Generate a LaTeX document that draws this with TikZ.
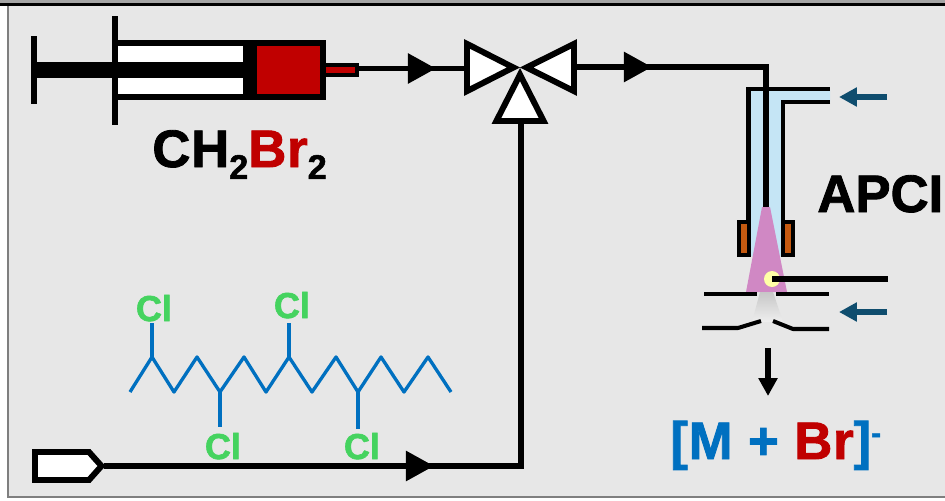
\documentclass[tikz,border=0pt]{standalone}
\usepackage{fontspec}
\setmainfont{Liberation Sans}
\newfontfamily\heavyfont[FakeBold=1.6]{Liberation Sans Bold}
\usetikzlibrary{arrows.meta}
\definecolor{panelgray}{HTML}{E7E7E7}
\definecolor{edgegray}{HTML}{7F7F7F}
\definecolor{brred}{HTML}{C00000}
\definecolor{chainblue}{HTML}{0070C0}
\definecolor{clgreen}{HTML}{45D35F}
\definecolor{gasblue}{HTML}{C5E5F5}
\definecolor{gasarrow}{HTML}{0F4D6E}
\definecolor{heater}{HTML}{C55A11}
\definecolor{plume}{HTML}{D088C4}
\definecolor{corona}{HTML}{FFFFA6}
\newcommand{\chemsub}[1]{\raisebox{-6.8pt}{\fontsize{19.5pt}{19.5pt}\selectfont #1}}
\tikzset{
  flow/.style={draw=black, line width=3.4pt},
  flowhead/.style={flow, -{Triangle[length=16pt,width=16.5pt]}},
  wall/.style={draw=black, line width=2.3pt},
  valveside/.style={draw=black, fill=white, line width=3.4pt, line join=miter},
  gasflow/.style={draw=gasarrow, line width=3.1pt, -{Triangle[length=10.2pt,width=10.4pt]}},
  bond/.style={draw=chainblue, line width=1.9pt, line join=round},
  bigchem/.style={font=\heavyfont\fontsize{30pt}{30pt}\selectfont, inner sep=0pt, anchor=base west},
  chlorine/.style={font=\heavyfont\fontsize{20.5pt}{20.5pt}\selectfont, text=clgreen, inner sep=0pt, anchor=base}
}

\begin{document}
\begin{tikzpicture}[x=0.02cm, y=-0.02cm]
\useasboundingbox (0,0) rectangle (945,500);

%% ── Panel ──────────────────────────────────────────────
\fill[white] (0,0) rectangle (945,500);
\fill[panelgray] (8,5) rectangle (945,497);
\fill[edgegray!70] (0,0) rectangle (945,3);
\fill[black] (0,3) rectangle (945,6);
\fill[edgegray] (6.5,6) rectangle (8.5,498);
\fill[edgegray] (6.5,496) rectangle (945,498);

%% ── Syringe ────────────────────────────────────────────
\fill[white] (116,46) rectangle (245,94);
\fill[brred] (255,46) rectangle (322,94);
\draw[wall, line width=3.4pt] (115,43) rectangle (323,97);
\fill[black] (34,62) rectangle (257,78);
\fill[black] (243,46) rectangle (257,94);
\fill[black] (31,36) rectangle (37,104);
\fill[black] (112,16) rectangle (118,125);
\fill[black] (326,63) rectangle (359,77);
\fill[brred] (326,67) rectangle (355,73);
\coordinate (tip) at (359,68.5);

%% ── Valve ──────────────────────────────────────────────
\coordinate (valveleft)   at (465,68.5);
\coordinate (valveright)  at (577,67);
\coordinate (valvebottom) at (521,124);

%% ── Flow lines ─────────────────────────────────────────
% syringe to valve
\coordinate (headtop) at (436,68.5);
\draw[flow] (tip) -- (valveleft);
\draw[flowhead] (tip) -- (headtop);
% valve to needle
\coordinate (headout) at (652,67);
\coordinate (bend) at (766,67);
\coordinate (needle) at (766,208);
\draw[flowhead] (valveright) -- (headout);

% sample inlet to valve
\coordinate (inlet) at (104,466);
\coordinate (headlow) at (434,466);
\coordinate (corner) at (521,466);
\draw[flow, line join=miter] (inlet) -- (corner) -- (valvebottom);
\draw[flowhead] (inlet) -- (headlow);
\draw[valveside] (35,452) -- (89,452) -- (101.5,466) -- (89,480) -- (35,480) -- cycle;

\draw[valveside] (467,43.9) -- (513.4,67.5) -- (467,91.1) -- cycle;
\draw[valveside] (574,43.9) -- (526.6,67.5) -- (574,91.1) -- cycle;
\draw[valveside] (520,74.6) -- (543.6,121) -- (496.4,121) -- cycle;

%% ── APCI source ────────────────────────────────────────
\fill[gasblue] (749,90) -- (830,90) -- (830,102) -- (783,102) -- (783,256) -- (749,256) -- cycle;
\draw[wall, line join=miter] (748.5,222) -- (748.5,89) -- (830,89);
\draw[wall, line join=miter] (830,102) -- (783,102) -- (783,222);
\draw[flow, line join=miter] (headout) -- (bend) -- (needle);
\draw[flow] (valveright) -- (headout);
\draw[wall, fill=heater] (739,222) rectangle (749,255);
\draw[wall, fill=heater] (783,222) rectangle (793,255);
\fill[plume] (762,207) -- (770,207) -- (787,292) -- (746,292) -- cycle;
\shade[top color=black!22, bottom color=panelgray!70!white] (760,292) -- (773,292) -- (783,322) -- (752,322) -- cycle;
\fill[corona] (772,279) circle (8);
\draw[flow] (772,279) -- (888,279);

% skimmer plates
\draw[wall] (704,294) -- (757,294);
\draw[wall] (776,294) -- (829,294);
\draw[wall, line join=round] (702,328) -- (738,328) -- (761,321);
\draw[wall, line join=round] (829,329) -- (793,329) -- (773,321);

% gas arrows
\draw[gasflow] (887,97) -- (839,97);
\draw[gasflow] (887,312) -- (839,312);

% outlet
\draw[flow, -{Triangle[length=10.2pt,width=10.4pt]}] (768,348) -- (768,396);

%% ── Chain ──────────────────────────────────────────────
\draw[bond] (130,392) -- (152,357) -- (174,392) -- (197,357) -- (220,392) -- (244,357) -- (266,392)
  -- (289,357) -- (312,392) -- (336,357) -- (358,392) -- (381,357) -- (404,392) -- (428,357) -- (451,392);
\draw[bond] (152,357) -- (152,323);
\draw[bond] (220,392) -- (220,427);
\draw[bond] (289,357) -- (289,323);
\draw[bond] (358,392) -- (358,429);
\node[chlorine] (cla) at (154,321) {Cl};
\node[chlorine] (clb) at (292,318) {Cl};
\node[chlorine] (clc) at (223,459) {Cl};
\node[chlorine] (cld) at (362,459) {Cl};

%% ── Labels ─────────────────────────────────────────────
\node[bigchem] (solvent) at (152,167) {\addfontfeature{LetterSpace=1.5}CH\chemsub{2}\textcolor{brred}{Br}\chemsub{2}};
\node[bigchem] (apci) at (817,212) {APCI};
\node[bigchem, text=chainblue] (adduct) at (670,459) {\addfontfeature{LetterSpace=1.5}[M + \textcolor{brred}{Br}]\raisebox{9pt}{\fontsize{17pt}{17pt}\selectfont -}};

\end{tikzpicture}
\end{document}
